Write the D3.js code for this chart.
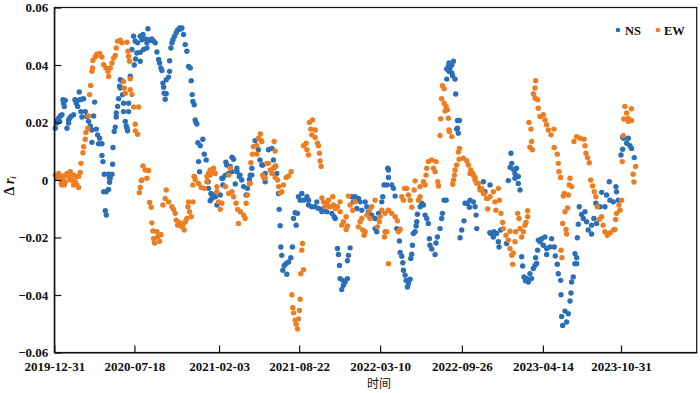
<!DOCTYPE html>
<html>
<head>
<meta charset="utf-8">
<script src="https://cdn.jsdelivr.net/npm/d3@7"></script>
<style>
  html, body { margin: 0; background: #fff; }
  text { font-family: "Liberation Serif", serif; fill: #111; }
  .tick text { font-size: 13px; font-weight: bold; }
</style>
</head>
<body>
<div id="viz"></div>
<script>
const xTicks = [0, 198, 407, 605, 805, 1007, 1207, 1400];
const xLabels = ["2019-12-31", "2020-07-18", "2021-02-03", "2021-08-22", "2022-03-10", "2022-09-26", "2023-04-14", "2023-10-31"];
const yTicks = [-0.06, -0.04, -0.02, 0, 0.02, 0.04, 0.06];
const yLabels = ["\u22120.06", "\u22120.04", "\u22120.02", "0", "0.02", "0.04", "0.06"];

const nsPoints = [
  [2.5,.018],[6.6,.0198],[10.7,.0215],[14.8,.0223],[18.9,.0227],[6.6,.0207],[13.2,.0204],[31.3,.018],[35.4,.0198],[37.9,.0215],
  [41,.0221],[47.7,.0227],[35.4,.0209],[21.4,.0279],[23,.0267],[27.2,.0277],[24.7,.0256],[51,.0279],[54.3,.0267],[57.6,.0256],
  [61.7,.0306],[62.5,.0279],[68.3,.0281],[72.4,.0283],[65.8,.0238],[68.3,.0219],[76.5,.0238],[80.7,.0221],[84.8,.0204],[88.9,.0188],
  [97.1,.0223],[99.6,.0271],[93,.0174],[103.7,.0177],[107,.0157],[112,.0145],[93,.0131],[109.5,.0126],[117.7,.0126],[117.7,.0085],
  [120.2,.0064],[144,.0055],[123.5,.002],[134,.002],[142.4,.002],[136,.0008],[138,.0006],[136.6,-.0008],[122,-.0041],[128,-.0041],
  [134,-.0033],[126,-.0107],[128.4,-.0122],[145,.0113],[148,.0169],[150.6,.0184],[153,.0233],[153,.0219],[156.4,.0256],[159,.0283],
  [161.3,.0326],[163,.0349],[167,.0345],[163,.032],[168.7,.0297],[171,.0267],[183.5,.0267],[183.5,.0238],[171,.0238],[175.3,.0204],
  [177.8,.0188],[181,.0171],[179.4,.018],[187.6,.0361],[191.8,.0454],[197.5,.04],[200.8,.0421],[204,.0442],[212.3,.0413],[212.3,.0444],
  [195.9,.05],[200,.0483],[205.8,.0477],[212.3,.05],[219,.0506],[216.4,.0488],[224.7,.0491],[228.8,.0477],[232.9,.0488],[237,.0486],
  [241.1,.0491],[245.3,.0483],[249.4,.0477],[231.3,.0526],[228.8,.0459],[220.6,.0454],[253.5,.0445],[257.6,.0419],[260,.0407],[263.4,.039],
  [265.8,.0381],[284.8,.0415],[284.8,.0378],[282.3,.0358],[276.5,.0349],[268.3,.0337],[270,.0323],[271.6,.0302],[276.5,.03],[274,.0281],
  [288,.0459],[290.5,.0477],[293,.0488],[297,.05],[301.2,.0512],[304.5,.0521],[309.4,.0529],[315.2,.0529],[312,.0525],[319.3,.0506],
  [323.4,.0471],[327.5,.0448],[331.7,.0395],[335.8,.039],[338.2,.0345],[340.7,.0297],[342.4,.0273],[345.7,.0262],[348,.0209],[352.2,.0195],
  [350,.02],[354.7,.013],[360.5,.0119],[367,.0142],[370.4,.009],[356.4,.0064],[375.3,.007],[358.8,.0029],[380,-.0006],[381,-.0029],
  [387,-.0047],[389.5,-.0064],[397.7,-.0058],[401.8,-.0087],[410,-.0052],[385,-.0072],[392,-.0052],[416.5,-.0017],[414,.0006],[422.7,.0017],
  [431,.0023],[439,.0029],[447,-.0014],[451.5,.0029],[457,.0012],[463,0],[467.6,-.0023],[477,-.0029],[474,-.0052],[488,.0017],
  [482,.0002],[521,-.0006],[424,.0062],[439,.0079],[443,.0072],[416.5,.0006],[434.5,.0047],[451,.0041],[459,.0017],[488,.0041],
  [496,.0137],[504,.0105],[508,.007],[515,.0052],[529,.0105],[426,.0052],[484,.0017],[521,.0023],[512.7,.0052],[516.8,.0017],
  [537.4,.011],[541.5,.007],[545.6,.0047],[549.7,.0023],[554,-.0047],[555.5,-.0102],[558,-.0159],[559.6,-.0233],[562,-.0262],[588.4,-.0233],
  [584.3,-.027],[578.6,-.0285],[572.8,-.029],[568,-.0297],[564.6,-.0314],[574.4,-.0328],[595,-.0114],[591,-.0134],[597.5,-.0157],[600.8,-.0116],
  [603.2,-.0058],[611.5,-.0047],[607.4,-.007],[615.6,-.007],[624,-.0058],[628,-.007],[628,-.0087],[636,-.0093],[644.4,-.0093],[648.5,-.0076],
  [652.6,-.0099],[661,-.011],[665,-.0099],[673,-.011],[685.5,-.0116],[691.3,-.0128],[694,-.0134],[699.5,-.0238],[702,-.0259],[704.5,-.0297],
  [706,-.0343],[712.7,-.0349],[718.5,-.0355],[724.2,-.0343],[710,-.0381],[714.4,-.0366],[724.2,-.0281],[726.7,-.0262],[730.8,-.0236],[735,-.0058],
  [743,-.0058],[751.4,-.0064],[739,-.0076],[747.3,-.0099],[755.5,-.0076],[768,-.0076],[772,-.0093],[759.6,-.0105],[776,-.011],[784.3,-.0122],
  [792.5,-.0134],[792.5,-.0169],[796.7,-.018],[801,-.0116],[809,-.0076],[811.5,-.0058],[814.8,-.0017],[821.3,-.0017],[825.5,.0009],[825.5,.0035],
  [823.8,.0041],[833.7,-.0017],[837.8,-.0029],[842,-.0056],[846,-.0169],[850,-.0174],[852.6,-.0212],[854.3,-.0252],[858.4,-.0265],[861,-.0288],
  [862.5,-.0314],[866.6,-.0331],[869,-.0349],[872.4,-.0372],[879,-.0345],[875,-.036],[880.6,-.0273],[883,-.0258],[884.7,-.0227],[887,-.0186],
  [891.3,-.018],[893.8,-.016],[895.4,-.0145],[897,-.0119],[904,-.0093],[907.7,-.0081],[911.9,-.0087],[916,-.0122],[920,-.0134],[924,-.0151],
  [926.7,-.0204],[928,-.0227],[932.4,-.024],[940.7,-.0259],[943,-.0219],[946.4,-.0198],[953,-.0169],[957,-.0134],[958.8,-.0116],[963,-.007],
  [968,-.007],[975,.0407],[986,.0413],[973.6,.0395],[982,.04],[977.7,.039],[969.5,.0386],[975,.0378],[982,.0372],[984,.0363],
  [969.5,.0351],[990,.0351],[991.7,.0299],[996,.0207],[1000.8,.0207],[996,.018],[994,.0177],[998,.0163],[1002.4,-.0201],[1006.5,-.0174],
  [1012,-.0142],[1014.7,-.0081],[1020.5,-.0081],[1027,-.007],[1035.3,-.0076],[1025.4,-.0095],[1039.4,-.0093],[1042,-.0122],[1043.6,-.0169],[1051.8,-.0029],
  [1060,-.0006],[1076,-.0183],[1076.4,-.0017],[1064,-.0041],[1128,.0093],[1130,.0058],[1126,.0044],[1134,.0037],[1142,.0041],[1138,.0023],
  [1146.3,.0012],[1138,.0006],[1121.6,-.0002],[1146.3,-.0012],[1150.5,-.0035],[1078,-.0186],[1086,-.018],[1092.8,-.0186],[1084.6,-.0198],[1097,-.0215],
  [1098.6,-.0233],[1102.7,-.0174],[1117.5,-.0221],[1154.6,-.0267],[1157,-.0299],[1160.3,-.0337],[1167,-.0343],[1171,-.0355],[1179,-.0343],[1175,-.0326],
  [1164,-.035],[1183.4,-.0308],[1187.5,-.0297],[1191.6,-.029],[1189,-.027],[1194,-.0244],[1200,-.0215],[1195.7,-.0209],[1204,-.0204],[1212,-.0198],
  [1208,-.0227],[1216.3,-.0238],[1216.3,-.0259],[1224.5,-.0233],[1228.6,-.0204],[1235,-.0233],[1237.7,-.0264],[1242.6,-.0293],[1245,-.0326],[1251,-.0349],
  [1251.7,-.0399],[1255.8,-.0506],[1253.3,-.0475],[1261.6,-.0456],[1269.8,-.0465],[1265.7,-.0494],[1274,-.0421],[1276.4,-.0393],[1278,-.0355],[1282,-.0337],
  [1286.2,-.0291],[1290.4,-.0291],[1290.4,-.027],[1286.2,-.0256],[1292,-.0201],[1294.5,-.0154],[1297,-.0093],[1302.7,-.012],[1311,-.011],[1306.8,-.0134],
  [1315,-.0145],[1319,-.0174],[1327.4,-.0188],[1327.4,-.0157],[1333,-.0134],[1339.7,-.0151],[1338,-.0081],[1348,-.0093],[1352,-.0043],[1360.3,-.0093],
  [1364.4,-.0052],[1371,-.0006],[1372.7,-.007],[1380.9,-.0076],[1389,-.0041],[1387.5,-.0023],[1393,-.007],[1400,.0087],[1404,.0107],[1407,.0145],
  [1418,.0145],[1414,.0128],[1422,.0119],[1426,.011],[1432.7,.0078],[1404,.0149]
];

const ewPoints = [
  [2.5,.0017],[6.6,.0006],[10.7,.0023],[14.8,.0012],[17.3,-.0012],[21.4,0],[24.7,-.0017],[31.3,.0023],[35.4,.0012],[39.5,.0029],
  [43.6,0],[47.7,.0017],[51.8,-.0006],[56,-.0017],[60,.0012],[64.2,.0026],[18.9,-.0017],[27,-.0006],[47.7,-.0017],[60,-.0026],
  [10.7,.0006],[39.5,0],[54.3,.0012],[23,.0014],[65.8,.0058],[70.8,.0095],[72.4,.0116],[76.5,.0142],[78.2,.0165],[83,.018],
  [84.8,.0223],[87.2,.0297],[89.7,.0329],[93,.0378],[94.6,.039],[95.5,.0416],[101,.0428],[105,.0438],[112,.044],[117.7,.0428],
  [108,.0435],[121.8,.0401],[127.6,.039],[132.5,.0378],[134.2,.036],[138.3,.039],[142.4,.0407],[146.5,.0424],[150.6,.0433],[153,.0459],
  [156.4,.0483],[163,.0486],[167,.0477],[179.4,.0479],[181.9,.0448],[183.5,.043],[186,.0413],[171,.0343],[187.6,.0352],[172.8,.032],
  [175.3,.0302],[187.6,.0314],[191.8,.0297],[195.9,.0254],[208.2,.0254],[200,.0194],[200,.0171],[205.8,.0159],[219,.0049],[224.7,.0035],
  [232.9,.0033],[228.8,.0006],[216.4,0],[214.8,-.0002],[212.3,-.0026],[210,-.0044],[235.4,-.0078],[239.5,-.0095],[241,-.0149],[243.6,-.0177],
  [253.5,-.018],[263.4,-.019],[245.3,-.0204],[247.7,-.0219],[260,-.0213],[255,-.0198],[276.5,-.0035],[274,-.0064],[268.3,-.0087],[282.3,-.0076],
  [290.5,-.0093],[294.6,-.0102],[298.7,-.0116],[301.2,-.014],[304.5,-.0157],[311,-.0151],[321,-.0174],[323.4,-.0145],[327.5,-.0134],[330,-.0093],
  [334,-.011],[338.2,-.0128],[331.7,-.0076],[342.4,-.0076],[315.2,-.0163],[308,-.0148],[318,-.0155],[342.4,-.0017],[345.7,.0012],[348,.0002],
  [356.4,-.0012],[363,-.0026],[370.4,-.0029],[377,-.0006],[381,.0023],[389.3,.0029],[397.5,.0023],[377,.0012],[401.6,-.0023],[401.6,-.0041],
  [405.7,-.0076],[414,-.0081],[410,-.0102],[422.7,-.0023],[431,-.0047],[439,-.0041],[443,-.0058],[449,-.0081],[453,-.0102],[459.6,-.011],
  [467.6,-.0122],[471.6,-.0134],[455,-.0151],[474,-.0081],[477,-.0052],[482,-.0012],[431,.0017],[385,.0017],[345.7,.0012],[385,.0035],
  [393.4,.0041],[434.5,.0041],[485.6,.006],[489.7,.009],[492,.0116],[500,.012],[504.5,.0145],[509,.016],[500,.009],[512.7,.0134],
  [525,.0058],[515,.0017],[521,.0006],[484,-.0012],[511,.0137],[543,.0134],[545.6,.0101],[529,.0058],[533.3,.0035],[541.5,.0041],
  [547.3,.0049],[537.4,.0023],[517,.0009],[545.6,.0009],[551.4,0],[554,-.0023],[558,-.0044],[562,-.0041],[566.2,-.0017],[572.8,.0009],
  [578.6,.0014],[585,.0029],[638,.0209],[630.4,.02],[633.7,.0177],[644.4,.0174],[636.2,.0157],[644.4,.0148],[650.2,.0128],[652.6,.0119],
  [622,.0128],[615.6,.0119],[624,.0105],[628,.0087],[655,.0093],[656.7,.0066],[659.2,.0047],[613.1,-.0221],[611.5,-.0244],[615.6,-.0312],
  [609,-.0326],[586.8,-.0399],[607.4,-.0415],[589.2,-.0444],[605.7,-.0454],[591,-.0462],[595,-.0488],[603.2,-.0483],[597.5,-.0502],[600.8,-.0518],
  [661,-.0062],[665,-.0076],[669,-.0093],[673,-.0081],[677.3,-.007],[681.4,-.0093],[688,-.0058],[689.7,-.0087],[693.8,-.0099],[699.5,-.0093],
  [706,-.0076],[706,-.011],[710,-.0157],[714.4,-.0145],[721,-.0128],[721,-.0172],[724.2,-.016],[726.7,-.0056],[730.8,-.0087],[737.4,-.0105],
  [743,-.0076],[751.4,-.0163],[755.5,-.0145],[759.6,-.0134],[762,-.0174],[765.4,-.0192],[768,-.018],[772,-.0122],[778.5,-.0105],[784.3,-.0093],
  [792.5,-.007],[780,-.0134],[805,-.0128],[809,-.0105],[798.3,-.0163],[803.2,-.0145],[817,-.0116],[825.5,-.0105],[833.7,-.0116],[842,-.0128],
  [847.7,-.0142],[817,-.018],[821.3,-.018],[815.6,-.0198],[825.5,-.0291],[850,-.018],[854.3,-.0171],[865,-.0029],[870.7,-.0029],[858.4,-.0058],
  [862.5,-.007],[874.8,-.0052],[879,-.007],[883,-.0095],[889,-.0035],[891.3,-.0003],[899.5,-.007],[903.6,-.0058],[903.6,-.0023],[911.9,-.0006],
  [916,-.0017],[918.5,.0017],[920,.0041],[924,.0064],[932.4,.007],[936.5,.0041],[943,.0064],[940.7,.0029],[947.3,-.0006],[949,-.0021],
  [953,.0155],[973.6,.0215],[976,.0169],[982,.0151],[958.8,.0328],[963,.0317],[957,.0283],[963,.0267],[968,.0256],[971,.0244],
  [965.4,.024],[954.7,.0213],[975,.0174],[1000.8,.011],[998.3,.0097],[984.3,-.0015],[986,0],[988.4,.0017],[990,.0035],[994,.0052],
  [1000,.0072],[1010.6,.0076],[1019,.0067],[1023,.0052],[1028.8,.0035],[1033.7,.0023],[1039.4,.0009],[1047.7,-.0012],[1056,-.0029],[1061.6,-.0047],
  [1070,-.0064],[1070.7,-.0101],[1027,.0023],[1035,.0017],[1039.4,0],[1043.5,-.0012],[1051.7,-.0035],[1060,-.0047],[1068,-.0064],[1076.4,-.0058],
  [1084.6,-.0041],[1097,-.0029],[1091,-.0105],[1088.7,-.0076],[1099.4,-.007],[1103.5,-.0116],[1107.7,-.0148],[1109.3,-.0169],[1116,-.0192],[1121.6,-.0209],
  [1125.8,-.0238],[1130,-.0262],[1134,-.0254],[1132.3,-.0293],[1125.8,-.0178],[1139.8,-.018],[1138,-.0215],[1150.5,-.0169],[1154.6,-.0198],[1158.7,-.018],
  [1162.8,-.0157],[1165.3,-.0148],[1169.4,-.0128],[1169.4,-.0107],[1144.7,-.0116],[1148,-.0134],[1189,.0345],[1187.5,.032],[1183.4,.03],[1187.5,.0285],
  [1194,.0279],[1195.7,.025],[1200,.0221],[1208,.0227],[1212,.0209],[1216,.0192],[1220.4,.0174],[1227,.0157],[1234.4,.0177],[1172.7,.02],
  [1177.6,.0177],[1179,.0134],[1175,.0114],[1181,.0105],[1235,.0113],[1242.6,.009],[1245,.0058],[1246.7,.0029],[1250.8,.0009],[1274,.0006],
  [1278,-.0023],[1272,-.0017],[1260,-.0047],[1270,-.0052],[1257.4,-.0056],[1268,-.0097],[1261.6,-.011],[1255.8,-.0151],[1264,-.0172],[1265.7,-.0188],
  [1251.7,-.0244],[1254,-.027],[1283.8,.0134],[1290.4,.0151],[1298.6,.0145],[1308.5,.0142],[1311,.0119],[1313.4,.0093],[1317.5,.0078],[1321.6,.006],
  [1325,0],[1330,-.0021],[1334,-.0041],[1338,-.0058],[1341.4,-.0093],[1352,-.0128],[1346,-.0137],[1356,-.0157],[1360.3,-.018],[1366,-.0192],
  [1372.7,-.0184],[1381,-.0174],[1385,-.0172],[1386.7,-.0137],[1389,-.0116],[1395,-.0087],[1397.4,-.0105],[1401.5,-.007],[1405.6,.0154],[1403,.0064],
  [1409.7,.0256],[1413.8,.0233],[1426,.0248],[1407,.0212],[1418,.0204],[1426,.0207],[1418,.0214],[1436,.0047],[1430,.002],[1432,-.0007]
];

const colors = { ns: "#2b6fb8", ew: "#ee7d21" };
const width = 700, height = 393;
const margin = { top: 7.5, right: 3.3, bottom: 40.5, left: 54.3 };
const dotRadius = 2.7;

const x = d3.scaleLinear()
  .domain([0, 1587])
  .range([margin.left, width - margin.right]);

const y = d3.scaleLinear()
  .domain([-0.06, 0.06])
  .range([height - margin.bottom, margin.top]);

const svg = d3.select("#viz")
  .append("svg")
  .attr("width", width)
  .attr("height", height)
  .style("display", "block");

// Dots first so the frame stays on top
svg.append("g").selectAll("circle")
  .data(nsPoints)
  .join("circle")
  .attr("cx", d => x(d[0]))
  .attr("cy", d => y(d[1]))
  .attr("r", dotRadius)
  .attr("fill", colors.ns);

svg.append("g").selectAll("circle")
  .data(ewPoints)
  .join("circle")
  .attr("cx", d => x(d[0]))
  .attr("cy", d => y(d[1]))
  .attr("r", dotRadius)
  .attr("fill", colors.ew);

// Axes, ticks point inward
svg.append("g")
  .attr("transform", `translate(0,${height - margin.bottom})`)
  .call(d3.axisBottom(x)
    .tickValues(xTicks)
    .tickFormat((d, i) => xLabels[i])
    .tickSizeInner(-7)
    .tickSizeOuter(0)
    .tickPadding(9));

svg.append("g")
  .attr("transform", `translate(${margin.left},0)`)
  .call(d3.axisLeft(y)
    .tickValues(yTicks)
    .tickFormat((d, i) => yLabels[i])
    .tickSizeInner(-7)
    .tickSizeOuter(0)
    .tickPadding(6));

svg.selectAll(".domain, .tick line")
  .attr("stroke", "#111")
  .attr("stroke-width", 1.2);

svg.append("rect")
  .attr("x", margin.left)
  .attr("y", margin.top)
  .attr("width", width - margin.left - margin.right)
  .attr("height", height - margin.top - margin.bottom)
  .attr("fill", "none")
  .attr("stroke", "#111")
  .attr("stroke-width", 1.2);

// Axis titles
svg.append("text")
  .attr("x", 379)
  .attr("y", 388)
  .attr("text-anchor", "middle")
  .style("font-family", '"Noto Sans CJK SC", sans-serif')
  .style("font-size", "12px")
  .text("时间");

const yTitle = svg.append("text")
  .attr("transform", "translate(14,186) rotate(-90)")
  .attr("text-anchor", "middle")
  .style("font-size", "14px")
  .style("font-weight", "bold");
yTitle.append("tspan").text("\u0394 ");
yTitle.append("tspan").style("font-style", "italic").text("r");
yTitle.append("tspan").style("font-style", "italic").style("font-size", "8px").attr("dy", 2).text("i");

// Legend
const legend = [["NS", colors.ns, 618, 625], ["EW", colors.ew, 658, 664]];
legend.forEach(([name, color, dotX, textX]) => {
  svg.append("circle").attr("cx", dotX).attr("cy", 30).attr("r", 2.3).attr("fill", color);
  svg.append("text")
    .attr("x", textX)
    .attr("y", 34.5)
    .style("font-size", "12.5px")
    .style("font-weight", "bold")
    .text(name);
});
</script>
</body>
</html>
